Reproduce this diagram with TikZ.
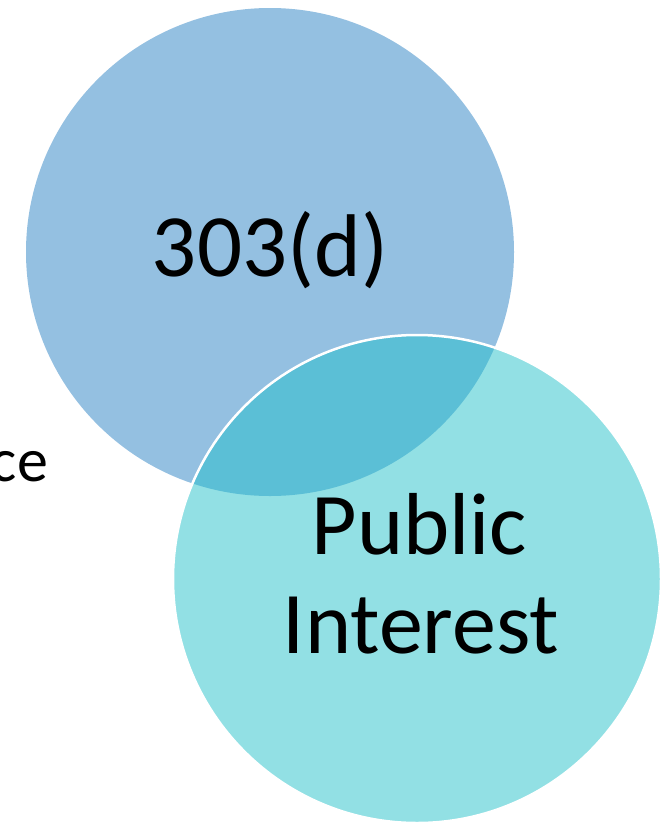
\documentclass[tikz,border=0pt]{standalone}
\usepackage{fontspec}
\setmainfont{Carlito}
\definecolor{blueC}{HTML}{94C0E1}
\definecolor{cyanC}{HTML}{92E0E4}
\definecolor{lensC}{HTML}{5BBFD6}
\begin{document}
\begin{tikzpicture}[x=1pt,y=1pt,
  disc/.style={circle, minimum size=488pt, inner sep=0pt, outer sep=0pt},
  lbl/.style={inner sep=0pt, outer sep=0pt, anchor=base, text=black}]
\useasboundingbox (0,0) rectangle (659,-822);
\fill[white] (0,0) rectangle (659,-822);
\node[disc, fill=blueC] (c1) at (270,-252) {};
\node[disc, fill=cyanC] (c2) at (417,-579) {};
\begin{scope}
  \clip (270,-252) circle (244);
  \fill[lensC] (417,-579) circle (244);
\end{scope}
\draw[white, line width=2.5pt] (417,-579) circle (244);
\node[lbl, font=\fontsize{89}{107}\selectfont] (t1) at (270,-276) {303(d)};
\node[lbl, font=\fontsize{88}{99}\selectfont] (t2) at (419.5,-554) {Public};
\node[lbl, font=\fontsize{88}{99}\selectfont] (t3) at (421,-653) {Interest};
\node[lbl, anchor=base east, font=\fontsize{62}{72}\selectfont] (t4) at (48,-481) {ce};
\end{tikzpicture}
\end{document}
